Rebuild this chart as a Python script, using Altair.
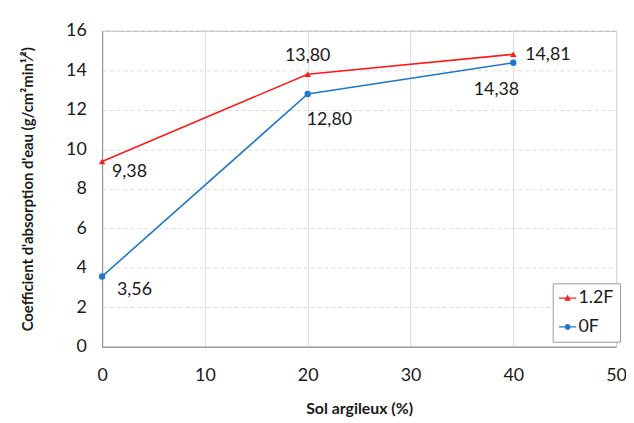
import altair as alt
import pandas as pd

# ---- data ----
sol_argileux = [0, 20, 40]
serie_12F = [9.38, 13.80, 14.81]
serie_0F = [3.56, 12.80, 14.38]
series_names = ["1.2F", "0F"]
x_ticks = [0, 10, 20, 30, 40, 50]
y_ticks = [0, 2, 4, 6, 8, 10, 12, 14, 16]

rows = []
for name, vals in zip(series_names, [serie_12F, serie_0F]):
    for i, (x, v) in enumerate(zip(sol_argileux, vals)):
        rows.append({"x": x, "y": v, "serie": name, "idx": i,
                     "label": f"{v:.2f}".replace(".", ",")})
df = pd.DataFrame(rows)

RED = "#ff1a1a"
BLUE = "#1f78c8"
FONT = "Lato"

color_scale = alt.Scale(domain=series_names, range=[RED, BLUE])

base = alt.Chart(df).encode(
    x=alt.X("x:Q", scale=alt.Scale(domain=[0, 50]),
            axis=alt.Axis(values=x_ticks, title="Sol argileux (%)")),
    y=alt.Y("y:Q", scale=alt.Scale(domain=[0, 16]),
            axis=alt.Axis(values=y_ticks,
                          title="Coefficient d'absorption d'eau (g/cm²min¹⁄²)")),
)

lines = base.mark_line(strokeWidth=1.6).encode(
    color=alt.Color("serie:N", scale=color_scale, legend=None),
    detail="serie:N",
)
points = base.mark_point(filled=True, size=42, opacity=1).encode(
    color=alt.Color("serie:N", scale=color_scale, legend=None),
    shape=alt.Shape("serie:N", scale=alt.Scale(domain=series_names,
                                               range=["triangle-up", "circle"]),
                    legend=None),
)

# label placement (style): (serie, idx) -> (align, dx, dy)
placement = {
    ("1.2F", 0): ("left", 10, 11),
    ("1.2F", 1): ("center", 0, -18),
    ("1.2F", 2): ("left", 12, 1),
    ("0F", 0): ("left", 15, 14),
    ("0F", 1): ("left", -1, 26),
    ("0F", 2): ("center", -17, 28),
}
label_layers = []
for (s, i), (al, dx, dy) in placement.items():
    label_layers.append(
        base.transform_filter(
            (alt.datum.serie == s) & (alt.datum.idx == i)
        ).mark_text(align=al, baseline="middle", dx=dx, dy=dy,
                    font=FONT, fontSize=18, color="#1a1a1a").encode(text="label:N")
    )

tri_path = "M-1,-0.08H1V0.08H-1Z M0,-0.42L0.36,0.3H-0.36Z"
circ_path = ("M-1,-0.08H1V0.08H-1Z M0.34,0A0.34,0.34 0 1 1 -0.34,0"
             "A0.34,0.34 0 1 1 0.34,0Z")

legend_layer = base.transform_filter("false").mark_point(filled=True, opacity=1).encode(
    color=alt.Color("serie:N", scale=color_scale,
                    legend=alt.Legend(title=None, orient="none",
                                      legendX=455, legendY=255,
                                      labelFont=FONT, labelFontSize=18,
                                      labelColor="#1a1a1a",
                                      symbolSize=300, symbolStrokeWidth=0,
                                      strokeColor="#9a9a9a", fillColor="white",
                                      padding=6, rowPadding=11, labelOffset=2)),
    shape=alt.Shape("serie:N", scale=alt.Scale(domain=series_names,
                                               range=[tri_path, circ_path])),
)

chart = alt.layer(lines, points, *label_layers, legend_layer).resolve_scale(
    color="independent", shape="independent"
).resolve_legend(color="independent", shape="independent").properties(
    width=519, height=319,
    background="white",
    autosize=alt.AutoSizeParams(type="none"),
    padding={"left": 95, "top": 21, "right": 10, "bottom": 72},
).configure_view(
    stroke="#a6a6a6", strokeWidth=1
).configure_axis(
    labelFont=FONT, labelFontSize=18, labelColor="#1a1a1a",
    titleFont=FONT, titleFontSize=16, titleFontWeight="bold", titleColor="#1a1a1a",
    ticks=False, domainColor="#8c8c8c", gridColor="#dcdcdc", gridWidth=1,
).configure_axisX(
    labelPadding=20, titlePadding=16, labelFlush=False,
).configure_axisY(
    labelPadding=16, titlePadding=30, gridDash=[4, 3], titleFontSize=15,
)

chart.save("out.html", embed_options={"renderer": "svg", "actions": False})
